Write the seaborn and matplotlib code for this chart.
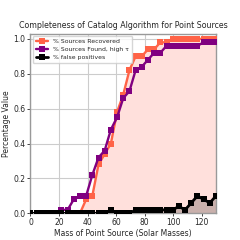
import numpy as np
import seaborn as sns
import matplotlib
matplotlib.use('Agg')
import matplotlib.pyplot as plt

# masses sampled on the x axis
masses = np.linspace(0, 130, 31)

recovered = [0, 0, 0, 0, 0, 0, 0, 0, 0, 0.08, 0.10, 0.28, 0.34, 0.40, 0.58,
             0.68, 0.82, 0.90, 0.90, 0.94, 0.94, 0.98, 0.98, 1.0, 1.0, 1.0,
             1.0, 1.0, 1.0, 1.0, 1.0]
found_high_tau = [0, 0, 0, 0, 0, 0.02, 0.02, 0.08, 0.10, 0.10, 0.22, 0.32, 0.36,
                  0.48, 0.55, 0.66, 0.70, 0.82, 0.84, 0.88, 0.92, 0.92, 0.96,
                  0.96, 0.96, 0.96, 0.96, 0.96, 0.98, 0.98, 0.98]
false_pos = [0, 0, 0, 0, 0, 0, 0, 0, 0, 0, 0, 0, 0, 0.02, 0, 0, 0, 0.02, 0.02,
             0.02, 0.02, 0.02, 0.02, 0.02, 0.04, 0.02, 0.06, 0.10, 0.08, 0.06,
             0.10]

sns.set_style('whitegrid', {'axes.edgecolor': '0.6', 'grid.color': '0.8',
                            'xtick.bottom': True, 'ytick.left': True})
plt.rcParams['font.family'] = ['DejaVu Sans']

fig = plt.figure(figsize=(2.4, 2.4), dpi=100)
ax = fig.add_axes([0.127, 0.111, 0.773, 0.749])

ax.fill_between(masses, recovered, color='#ffe0dc', zorder=1)
ax.fill_between(masses, false_pos, color='#c9b0ac', zorder=1.5)

sns.lineplot(x=masses, y=recovered, color='#ff6347', marker='s', markersize=3.8,
             markeredgewidth=0, linewidth=1.7, label='% Sources Recovered', ax=ax, zorder=3)
sns.lineplot(x=masses, y=found_high_tau, color='purple', marker='s', markersize=3.8,
             markeredgewidth=0, linewidth=1.7, label='% Sources Found, high τ', ax=ax, zorder=4)
sns.lineplot(x=masses, y=false_pos, color='black', marker='s', markersize=3.8,
             markeredgewidth=0, linewidth=2.0, label='% false positives', ax=ax, zorder=5)

ax.set_xlim(0, 130)
ax.set_ylim(0, 1.03)
ax.set_xticks([0, 20, 40, 60, 80, 100, 120])
ax.set_yticks([0, 0.2, 0.4, 0.6, 0.8, 1.0])
ax.tick_params(labelsize=5.5, length=2, width=0.6, pad=1.5, colors='0.15')
for s in ax.spines.values():
    s.set_linewidth(1.0)

ax.set_title('Completeness of Catalog Algorithm for Point Sources', fontsize=5.7, pad=4)
ax.set_xlabel('Mass of Point Source (Solar Masses)', fontsize=5.5, labelpad=1)
ax.set_ylabel('Percentage Value', fontsize=5.5, labelpad=2)
ax.legend(loc='upper left', fontsize=4.4, frameon=True, handlelength=2.0,
          borderpad=0.5, labelspacing=0.45, borderaxespad=0.4)

fig.savefig('out.png', dpi=100)
